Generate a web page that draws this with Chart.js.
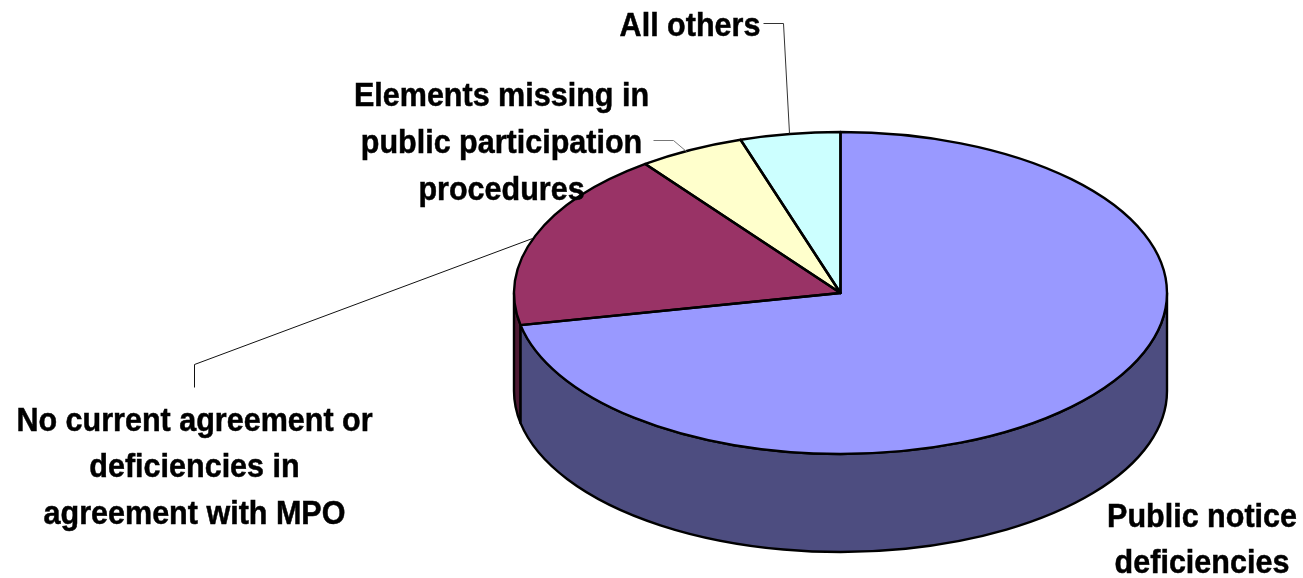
<!DOCTYPE html>
<html>
<head>
<meta charset="utf-8">
<style>
html,body{margin:0;padding:0;background:#fff;overflow:hidden}
#wrap{width:1303px;height:578px;position:relative}
</style>
<script src="https://cdn.jsdelivr.net/npm/chart.js@4"></script>
</head>
<body>
<div id="wrap"><canvas id="c" width="1303" height="578"></canvas></div>
<script>
const categories = ["Public notice deficiencies","No current agreement or deficiencies in agreement with MPO","Elements missing in public participation procedures","All others"];
const values = [71.8, 18.0, 5.25, 4.95];
const topColors = ["#9999FF","#993366","#FFFFCC","#CCFFFF"];
const sideColors = ["#4D4D80","#4D1A33","#808066","#668080"];

const RX = 326.5, RY = 161, DEPTH = 98, STROKE = 2.4;
const FONT = 'bold 33px "Liberation Sans", Arial, sans-serif';
const TEXT_SX = 0.925;

const labelBlocks = [
  {lines:["All others"], x:690, y:[36]},
  {lines:["Elements missing in","public participation","procedures"], x:501.5, y:[106,153,200]},
  {lines:["No current agreement or","deficiencies in","agreement with MPO"], x:194.5, y:[431,477,524]},
  {lines:["Public notice","deficiencies"], x:1202, y:[527,573]}
];
const leaders = [
  {c:"#333", pts:[[763,23],[783,23],[789,133]]},
  {c:"#777", pts:[[653,140],[673,140],[686,151]]},
  {c:"#111", pts:[[194,387],[194,364],[532,238]]}
];

function outline(ctx, cx, cy, a0, a1, dy, ccw){
  ctx.ellipse(cx, cy + (dy||0), RX, RY, 0, a0, a1, !!ccw);
}
const pie3d = {
  id:'pie3d',
  beforeDatasetsDraw(chart){
    const ctx = chart.ctx, arcs = chart.getDatasetMeta(0).data;
    ctx.save();
    ctx.lineWidth = STROKE; ctx.strokeStyle = '#000'; ctx.lineJoin='round';
    // side walls: only the parts of each slice facing the viewer (angles 0..PI)
    const order = arcs.map((a,i)=>i).reverse();
    order.forEach(i=>{
      const a = arcs[i];
      const s = Math.max(a.startAngle, 0), e = Math.min(a.endAngle, Math.PI);
      if (e <= s) return;
      ctx.beginPath();
      outline(ctx,a.x,a.y,s,e,0,false);
      outline(ctx,a.x,a.y,e,s,DEPTH,true);
      ctx.closePath();
      ctx.fillStyle = sideColors[i];
      ctx.fill();
      ctx.stroke();
    });
    ctx.restore();
  },
  beforeDatasetDraw(chart,args){
    const a = chart.getDatasetMeta(args.index).data[0], ctx = chart.ctx;
    const r = a.outerRadius;
    ctx.save();
    ctx.translate(a.x,a.y); ctx.scale(RX/r,RY/r); ctx.translate(-a.x,-a.y);
  },
  afterDatasetDraw(chart,args){
    const ctx = chart.ctx, arcs = chart.getDatasetMeta(args.index).data;
    ctx.restore();
    ctx.save();
    ctx.lineWidth = STROKE; ctx.strokeStyle = '#000'; ctx.lineJoin='round';
    arcs.forEach(a=>{
      ctx.beginPath();
      ctx.moveTo(a.x,a.y);
      outline(ctx,a.x,a.y,a.startAngle,a.endAngle,0,false);
      ctx.closePath();
      ctx.stroke();
    });
    ctx.restore();
  },
  afterDraw(chart){
    const ctx = chart.ctx;
    ctx.save();
    leaders.forEach(l=>{
      ctx.beginPath(); ctx.lineWidth=1; ctx.strokeStyle=l.c;
      l.pts.forEach((p,i)=> i?ctx.lineTo(p[0]+.5,p[1]+.5):ctx.moveTo(p[0]+.5,p[1]+.5));
      ctx.stroke();
    });
    ctx.font = FONT; ctx.fillStyle='#000'; ctx.strokeStyle='#000'; ctx.lineWidth=0.5;
    ctx.textAlign='center'; ctx.textBaseline='alphabetic';
    labelBlocks.forEach(b=> b.lines.forEach((t,i)=>{
      ctx.save();
      ctx.translate(b.x,b.y[i]); ctx.scale(TEXT_SX,1);
      ctx.fillText(t,0,0);
      ctx.strokeText(t,0,0);
      ctx.restore();
    }));
    ctx.restore();
  }
};

new Chart(document.getElementById('c'),{
  type:'pie',
  data:{labels:categories,datasets:[{data:values,backgroundColor:topColors,borderWidth:0}]},
  options:{
    responsive:false,animation:false,rotation:0,
    layout:{padding:{left:378,right:0,top:8,bottom:0}},
    plugins:{legend:{display:false},tooltip:{enabled:false},title:{display:false}}
  },
  plugins:[pie3d]
});
</script>
</body>
</html>
